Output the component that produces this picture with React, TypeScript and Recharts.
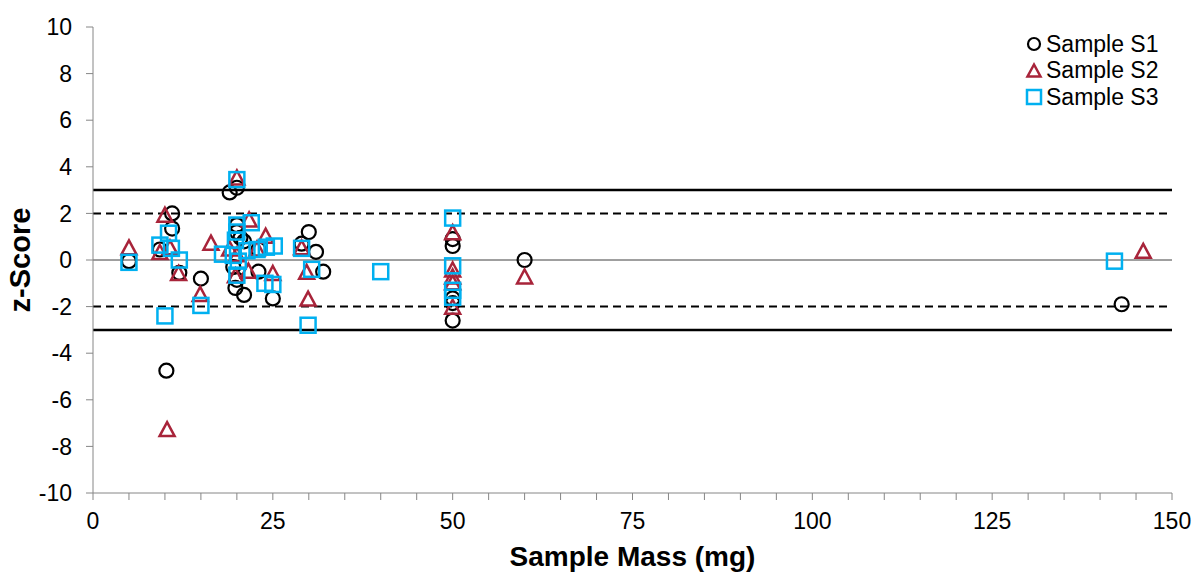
import React from 'react';
import { ScatterChart, Scatter, XAxis, YAxis, ReferenceLine } from 'recharts';

// mass (mg), z-score
const sampleS1 = [
  { mass: 5, z: -0.05 }, { mass: 9.3, z: 0.45 }, { mass: 11, z: 2.0 }, { mass: 11, z: 1.35 },
  { mass: 12, z: -0.55 }, { mass: 15, z: -0.8 }, { mass: 10.2, z: -4.75 }, { mass: 19, z: 2.9 },
  { mass: 20, z: 3.1 }, { mass: 20, z: 1.5 }, { mass: 20, z: 1.2 }, { mass: 20.5, z: 0.95 },
  { mass: 21, z: 0.8 }, { mass: 19.5, z: -0.3 }, { mass: 20, z: -0.85 }, { mass: 19.8, z: -1.2 },
  { mass: 21, z: -1.5 }, { mass: 23, z: -0.5 }, { mass: 23, z: 0.45 }, { mass: 25, z: -1.65 },
  { mass: 29, z: 0.7 }, { mass: 30, z: 1.2 }, { mass: 31, z: 0.35 }, { mass: 32, z: -0.5 },
  { mass: 50, z: 0.9 }, { mass: 50, z: 0.6 }, { mass: 50, z: -1.65 }, { mass: 50, z: -1.85 },
  { mass: 50, z: -2.6 }, { mass: 60, z: 0.0 }, { mass: 143, z: -1.9 },
];

const sampleS2 = [
  { mass: 5, z: 0.5 }, { mass: 9.3, z: 0.3 }, { mass: 10, z: 1.9 }, { mass: 10.7, z: 0.5 },
  { mass: 10.3, z: -7.3 }, { mass: 11.9, z: -0.6 }, { mass: 14.9, z: -1.5 }, { mass: 16.4, z: 0.7 },
  { mass: 19, z: 0.45 }, { mass: 20, z: 3.5 }, { mass: 20, z: 0.2 }, { mass: 19.8, z: -0.7 },
  { mass: 21.7, z: 1.7 }, { mass: 21.6, z: -0.5 }, { mass: 22.8, z: 0.45 }, { mass: 24, z: 1.0 },
  { mass: 25, z: -0.6 }, { mass: 29, z: 0.5 }, { mass: 29.7, z: -0.55 }, { mass: 29.9, z: -1.7 },
  { mass: 50, z: 1.15 }, { mass: 50, z: -0.45 }, { mass: 50, z: -0.75 }, { mass: 50, z: -1.0 },
  { mass: 50, z: -2.05 }, { mass: 60, z: -0.75 }, { mass: 146, z: 0.35 },
];

const sampleS3 = [
  { mass: 5, z: -0.1 }, { mass: 9.3, z: 0.64 }, { mass: 10.5, z: 1.15 }, { mass: 10.9, z: 0.5 },
  { mass: 12, z: 0.0 }, { mass: 10, z: -2.4 }, { mass: 15, z: -1.95 }, { mass: 18, z: 0.25 },
  { mass: 19.5, z: 0.2 }, { mass: 20, z: 3.45 }, { mass: 20, z: 1.5 }, { mass: 20, z: 1.2 },
  { mass: 19.8, z: 0.85 }, { mass: 20.2, z: -0.05 }, { mass: 20, z: -0.65 }, { mass: 21.4, z: 0.4 },
  { mass: 22, z: 1.6 }, { mass: 22.8, z: 0.45 }, { mass: 24.1, z: 0.55 }, { mass: 25.2, z: 0.6 },
  { mass: 23.9, z: -1.0 }, { mass: 25, z: -1.05 }, { mass: 29, z: 0.5 }, { mass: 30.4, z: -0.4 },
  { mass: 29.9, z: -2.8 }, { mass: 40, z: -0.5 }, { mass: 50, z: 1.8 }, { mass: 50, z: -0.25 },
  { mass: 50, z: -1.3 }, { mass: 50, z: -1.6 }, { mass: 142, z: -0.05 },
];

const xTicks = [0, 5, 10, 15, 20, 25, 30, 35, 40, 45, 50, 55, 60, 65, 70, 75, 80, 85, 90, 95, 100, 105, 110, 115, 120, 125, 130, 135, 140, 145, 150];
const yTicks = [-10, -8, -6, -4, -2, 0, 2, 4, 6, 8, 10];
const limitLines = [3, -3];
const warnLines = [2, -2];

const S1_COLOR = '#000000';
const S2_COLOR = '#A8243A';
const S3_COLOR = '#00B0F0';
const FONT = '"Liberation Sans", Arial, sans-serif';

const Circle = (props: any) => (
  <circle cx={props.cx} cy={props.cy} r={7} fill="none" stroke={S1_COLOR} strokeWidth={2.2} />
);
const Triangle = (props: any) => {
  const { cx, cy } = props;
  return (
    <polygon
      points={`${cx},${cy - 8} ${cx + 7.5},${cy + 6} ${cx - 7.5},${cy + 6}`}
      fill="none" stroke={S2_COLOR} strokeWidth={2.5}
    />
  );
};
const Square = (props: any) => (
  <rect x={props.cx - 7.5} y={props.cy - 7.5} width={15} height={15} fill="none" stroke={S3_COLOR} strokeWidth={2.5} />
);

const legendItems = [
  { name: 'Sample S1', kind: 'circle' },
  { name: 'Sample S2', kind: 'triangle' },
  { name: 'Sample S3', kind: 'square' },
];

const LegendBox = () => (
  <div style={{ position: 'absolute', left: 1024, top: 31, fontFamily: FONT, fontSize: 23, color: '#000' }}>
    {legendItems.map(it => (
      <div key={it.name} style={{ display: 'flex', alignItems: 'center', height: 26.5 }}>
        <svg width={20} height={20} style={{ marginRight: 2 }}>
          {it.kind === 'circle' && <circle cx={10} cy={10} r={6} fill="none" stroke={S1_COLOR} strokeWidth={2.2} />}
          {it.kind === 'triangle' && <polygon points="10,3.5 16.5,15.5 3.5,15.5" fill="none" stroke={S2_COLOR} strokeWidth={2.5} />}
          {it.kind === 'square' && <rect x={3} y={3} width={14} height={14} fill="none" stroke={S3_COLOR} strokeWidth={2.5} />}
        </svg>
        <span>{it.name}</span>
      </div>
    ))}
  </div>
);

export default function App() {
  return (
    <div style={{ position: 'absolute', left: 0, top: 0, width: 1199, height: 572, background: '#fff' }}>
      <ScatterChart width={1199} height={572} margin={{ top: 27, right: 27, bottom: 0, left: 0 }}>
        <XAxis
          type="number" dataKey="mass" domain={[0, 150]} ticks={xTicks} interval={0}
          tickFormatter={(v: number) => (v % 25 === 0 ? String(v) : '')}
          stroke="#868686" tickSize={7} tickMargin={13} height={79}
          tick={{ fill: '#000', fontSize: 23, fontFamily: FONT }}
          label={{ value: 'Sample Mass (mg)', position: 'insideBottom', offset: 6, fill: '#000', fontSize: 28, fontWeight: 'bold', fontFamily: FONT }}
        />
        <YAxis
          type="number" dataKey="z" domain={[-10, 10]} ticks={yTicks} interval={0}
          stroke="#868686" tickSize={7} tickMargin={14} width={93}
          tick={{ fill: '#000', fontSize: 23, fontFamily: FONT }}
          label={{ value: 'z-Score', angle: -90, position: 'insideLeft', offset: 20, fill: '#000', fontSize: 29, fontWeight: 'bold', fontFamily: FONT, style: { textAnchor: 'middle' } }}
        />
        <ReferenceLine y={0} stroke="#404040" strokeWidth={1} />
        {limitLines.map(v => (
          <ReferenceLine key={`l${v}`} y={v} stroke="#000" strokeWidth={2.5} />
        ))}
        {warnLines.map(v => (
          <ReferenceLine key={`w${v}`} y={v} stroke="#000" strokeWidth={2} strokeDasharray="8 5" />
        ))}
        <Scatter name="Sample S1" data={sampleS1} shape={Circle} isAnimationActive={false} />
        <Scatter name="Sample S2" data={sampleS2} shape={Triangle} isAnimationActive={false} />
        <Scatter name="Sample S3" data={sampleS3} shape={Square} isAnimationActive={false} />
      </ScatterChart>
      <LegendBox />
    </div>
  );
}
